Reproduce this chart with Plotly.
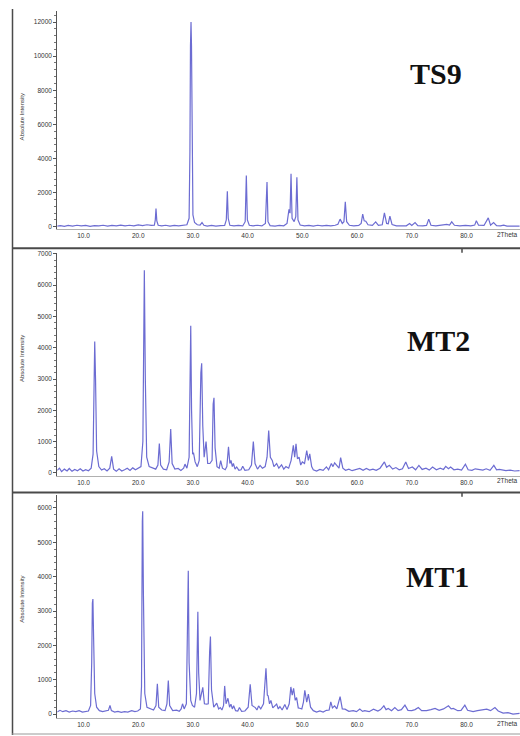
import plotly.graph_objects as go

# ---- data: (2theta, absolute intensity) ----
ts9_profile = [
    (5.2, 40), (5.8, 70), (6.5, 30), (7.2, 80), (8.0, 40), (8.8, 90), (9.6, 50), (10.4, 80),
    (11.2, 30), (12.0, 70), (12.8, 50), (13.6, 90), (14.4, 40), (15.2, 80), (16.0, 60), (16.8, 100),
    (17.6, 50), (18.4, 90), (19.2, 60), (20.0, 110), (20.8, 70), (21.6, 120), (22.4, 80), (22.95, 90),
    (23.12, 400), (23.25, 1070), (23.4, 350), (23.65, 90), (24.3, 50), (25.0, 90), (25.8, 40),
    (26.6, 80), (27.4, 50), (28.2, 90), (28.9, 120), (29.3, 500), (29.45, 4400), (29.55, 10600),
    (29.65, 12000), (29.74, 10600), (29.85, 3000), (30.0, 700), (30.3, 250), (30.8, 120), (31.3, 100),
    (31.66, 250), (32.0, 90), (32.6, 40), (33.4, 80), (34.2, 40), (35.0, 70), (35.8, 80), (36.1, 400),
    (36.29, 2080), (36.45, 500), (36.75, 90), (37.5, 50), (38.3, 80), (39.1, 50), (39.55, 300),
    (39.76, 3010), (39.95, 400), (40.3, 90), (41.0, 60), (41.8, 90), (42.6, 50), (43.25, 200),
    (43.54, 2620), (43.72, 300), (44.1, 70), (45.0, 40), (45.8, 80), (46.6, 60), (47.2, 200),
    (47.56, 1030), (47.75, 800), (47.93, 3110), (48.12, 500), (48.5, 300), (48.8, 600), (49.0, 2910),
    (49.2, 400), (49.6, 100), (50.4, 50), (51.2, 80), (52.0, 40), (52.8, 90), (53.6, 50), (54.4, 80),
    (55.2, 50), (56.0, 90), (56.5, 150), (56.9, 450), (57.3, 200), (57.6, 300), (57.85, 1460),
    (58.1, 300), (58.6, 90), (59.4, 60), (60.3, 80), (60.75, 200), (61.03, 740), (61.3, 350),
    (61.6, 330), (62.0, 120), (62.8, 80), (63.4, 290), (63.9, 80), (64.6, 120), (65.0, 815),
    (65.4, 200), (65.7, 180), (66.0, 620), (66.4, 130), (67.2, 60), (68.2, 80), (69.0, 60),
    (69.6, 195), (70.0, 80), (70.6, 250), (71.1, 70), (72.0, 50), (72.7, 80), (73.1, 450), (73.5, 90),
    (74.4, 60), (75.4, 90), (76.4, 140), (76.9, 100), (77.3, 290), (77.8, 90), (78.8, 60), (79.8, 80),
    (80.8, 50), (81.5, 100), (81.8, 350), (82.2, 90), (83.2, 80), (83.98, 525), (84.4, 100),
    (84.95, 250), (85.5, 60), (86.2, 50), (86.8, 100), (87.4, 40), (88.3, 50), (89.2, 30), (89.7, 40),
]

mt2_profile = [
    (5.2, 80), (5.6, 150), (6.0, 40), (6.5, 120), (7.0, 60), (7.4, 140), (7.9, 50), (8.4, 110),
    (8.9, 70), (9.4, 130), (9.9, 60), (10.4, 100), (10.9, 70), (11.4, 150), (11.75, 600),
    (11.95, 3900), (12.05, 4200), (12.2, 3000), (12.4, 700), (12.8, 200), (13.3, 90), (13.8, 130),
    (14.3, 60), (14.8, 150), (15.15, 530), (15.5, 120), (16.0, 50), (16.5, 130), (17.0, 60),
    (17.5, 100), (18.0, 150), (18.5, 80), (19.0, 160), (19.5, 100), (20.0, 150), (20.5, 200),
    (20.85, 1000), (21.0, 6000), (21.12, 6480), (21.3, 3000), (21.55, 500), (22.0, 200), (22.6, 150),
    (23.2, 120), (23.6, 250), (23.86, 940), (24.1, 250), (24.6, 120), (25.2, 100), (25.65, 350),
    (25.94, 1400), (26.2, 300), (26.7, 120), (27.3, 140), (27.8, 80), (28.3, 150), (28.55, 280),
    (28.9, 150), (29.3, 500), (29.5, 4380), (29.6, 4700), (29.75, 2000), (29.95, 600), (30.1, 650),
    (30.4, 350), (30.8, 200), (31.15, 400), (31.45, 3200), (31.6, 3500), (31.8, 1500), (32.05, 500),
    (32.4, 1000), (32.7, 300), (33.1, 300), (33.5, 400), (33.7, 2200), (33.85, 2400), (34.05, 800),
    (34.4, 200), (34.8, 150), (35.07, 390), (35.4, 150), (35.9, 100), (36.2, 200), (36.5, 830),
    (36.75, 300), (36.96, 400), (37.2, 200), (37.4, 300), (37.7, 120), (38.0, 190), (38.4, 80),
    (38.8, 100), (39.1, 210), (39.5, 80), (40.2, 100), (40.7, 250), (41.04, 1000), (41.35, 300),
    (41.8, 120), (42.27, 240), (42.7, 150), (43.2, 200), (43.55, 500), (43.85, 1350), (44.15, 500),
    (44.5, 400), (44.8, 200), (45.3, 300), (45.7, 150), (46.2, 260), (46.6, 120), (47.0, 200),
    (47.5, 150), (47.95, 400), (48.35, 880), (48.6, 500), (48.84, 930), (49.1, 450), (49.4, 500),
    (49.7, 250), (50.0, 350), (50.4, 300), (50.8, 710), (51.1, 400), (51.35, 610), (51.7, 200),
    (52.0, 100), (52.6, 60), (53.2, 110), (53.8, 80), (54.4, 190), (54.8, 100), (55.3, 300),
    (55.6, 200), (55.9, 320), (56.4, 190), (56.7, 150), (57.0, 485), (57.4, 150), (57.9, 85),
    (58.5, 120), (59.1, 70), (59.8, 110), (60.5, 140), (61.1, 80), (61.7, 140), (62.3, 90),
    (62.9, 120), (63.5, 80), (64.2, 150), (65.0, 350), (65.4, 180), (65.9, 240), (66.5, 120),
    (67.1, 170), (67.7, 100), (68.3, 130), (68.9, 350), (69.4, 140), (70.1, 190), (70.7, 100),
    (71.3, 240), (71.9, 110), (72.6, 150), (73.2, 90), (73.8, 190), (74.5, 100), (75.2, 150),
    (75.8, 110), (76.2, 210), (76.7, 130), (77.1, 190), (77.7, 100), (78.4, 120), (79.1, 90),
    (79.8, 275), (80.3, 100), (81.0, 80), (81.6, 130), (82.3, 105), (83.0, 90), (83.6, 130),
    (84.3, 80), (85.0, 240), (85.5, 100), (86.0, 110), (86.5, 85), (87.2, 70), (88.0, 90),
    (88.8, 60), (89.7, 70),
]

mt1_profile = [
    (5.2, 60), (5.7, 110), (6.2, 70), (6.8, 100), (7.4, 60), (8.0, 90), (8.6, 70), (9.2, 100),
    (9.8, 60), (10.4, 80), (10.9, 90), (11.3, 250), (11.5, 1500), (11.62, 3230), (11.72, 3350),
    (11.85, 2200), (12.05, 600), (12.4, 200), (12.9, 100), (13.5, 70), (14.1, 90), (14.55, 110),
    (14.84, 250), (15.1, 100), (15.7, 60), (16.3, 80), (16.9, 50), (17.5, 70), (18.1, 60), (18.8, 100),
    (19.4, 70), (19.9, 90), (20.4, 150), (20.6, 800), (20.75, 5600), (20.82, 5900), (20.95, 3500),
    (21.2, 600), (21.6, 200), (22.2, 150), (22.8, 120), (23.25, 250), (23.5, 880), (23.75, 200),
    (24.3, 120), (24.9, 100), (25.25, 300), (25.5, 980), (25.75, 250), (26.3, 100), (27.03, 115),
    (27.5, 80), (27.85, 150), (28.1, 300), (28.4, 150), (28.8, 300), (29.0, 3000), (29.15, 4170),
    (29.3, 1500), (29.45, 500), (29.6, 400), (29.9, 250), (30.3, 200), (30.65, 600), (30.8, 2600),
    (30.9, 2980), (31.05, 1200), (31.3, 400), (31.8, 780), (32.1, 300), (32.5, 290), (32.8, 300),
    (33.05, 1800), (33.2, 2260), (33.4, 700), (33.8, 200), (34.35, 320), (34.7, 150), (35.0, 190),
    (35.3, 120), (35.6, 250), (35.8, 820), (36.05, 300), (36.4, 460), (36.7, 200), (36.95, 290),
    (37.2, 150), (37.44, 240), (37.8, 100), (38.2, 90), (38.5, 190), (38.9, 80), (39.5, 90),
    (40.1, 200), (40.47, 870), (40.8, 250), (41.4, 190), (41.7, 120), (42.0, 240), (42.4, 150),
    (42.9, 300), (43.35, 1330), (43.6, 550), (43.75, 530), (44.0, 300), (44.25, 400), (44.6, 180),
    (45.3, 290), (45.6, 150), (45.9, 220), (46.3, 120), (46.8, 280), (47.2, 130), (47.6, 300),
    (47.9, 790), (48.15, 550), (48.4, 750), (48.7, 400), (48.95, 480), (49.25, 180), (49.5, 170),
    (49.9, 150), (50.2, 350), (50.45, 690), (50.8, 350), (51.1, 580), (51.5, 200), (52.0, 100),
    (52.6, 60), (53.2, 90), (53.8, 60), (54.4, 110), (54.9, 120), (55.2, 357), (55.5, 180),
    (55.9, 240), (56.3, 150), (56.9, 510), (57.3, 150), (57.8, 145), (58.5, 80), (59.3, 100),
    (59.9, 70), (60.5, 145), (61.0, 80), (61.4, 100), (62.2, 70), (63.0, 145), (63.8, 90),
    (64.3, 130), (64.9, 240), (65.3, 130), (65.7, 165), (66.3, 100), (66.9, 190), (67.5, 100),
    (68.1, 130), (68.75, 260), (69.3, 110), (70.0, 100), (70.6, 130), (71.2, 190), (71.8, 100),
    (72.7, 100), (73.5, 130), (74.25, 165), (75.0, 110), (75.8, 150), (76.7, 240), (77.2, 150),
    (77.6, 165), (78.4, 100), (79.0, 110), (79.7, 260), (80.2, 110), (81.2, 70), (82.0, 100),
    (82.8, 120), (83.7, 145), (84.4, 100), (85.2, 190), (85.8, 90), (86.7, 30), (87.6, 40),
    (88.5, 0), (89.7, 20),
]

sample_names = ["TS9", "MT2", "MT1"]
x_tick_values = [10, 20, 30, 40, 50, 60, 70, 80]
x_tick_labels = ["10.0", "20.0", "30.0", "40.0", "50.0", "60.0", "70.0", "80.0"]
y_ticks_ts9 = [0, 2000, 4000, 6000, 8000, 10000, 12000]
y_ticks_mt2 = [0, 1000, 2000, 3000, 4000, 5000, 6000, 7000]
y_ticks_mt1 = [0, 1000, 2000, 3000, 4000, 5000, 6000]

W, H = 520, 736
LINE = "#6c6cd2"

def py(y):  # pixel row -> paper fraction
    return 1 - y / H

def px(x):
    return x / W

fig = go.Figure()
profiles = [ts9_profile, mt2_profile, mt1_profile]
for i, prof in enumerate(profiles):
    sfx = "" if i == 0 else str(i + 1)
    fig.add_trace(go.Scatter(
        x=[p[0] for p in prof], y=[p[1] for p in prof], mode="lines",
        line=dict(color=LINE, width=1.2), xaxis="x" + sfx, yaxis="y" + sfx,
        showlegend=False, hoverinfo="skip"))

x_dom = [px(57.24), 1.0]
x_rng = [5.2, 89.78]
y_specs = [
    dict(domain=[py(227.6), py(8)], range=[-150, 12650], tickvals=y_ticks_ts9, dtick=2000),
    dict(domain=[py(475.6), py(251.3)], range=[-100, 7030], tickvals=y_ticks_mt2, dtick=1000),
    dict(domain=[py(719.3), py(494.9)], range=[-125, 6370], tickvals=y_ticks_mt1, dtick=1000),
]

layout = dict(width=W, height=H, margin=dict(l=0, r=0, t=0, b=0),
              paper_bgcolor="white", plot_bgcolor="white", showlegend=False)

tickfont = dict(family="Liberation Sans, Arial, sans-serif", size=6.5, color="#333333")
for i, spec in enumerate(y_specs):
    sfx = "" if i == 0 else str(i + 1)
    layout["xaxis" + sfx] = dict(
        domain=x_dom, range=x_rng, anchor="y" + sfx, tickmode="array",
        tickvals=x_tick_values, ticktext=x_tick_labels, showgrid=False, zeroline=False,
        showline=True, linecolor="#b0b0b0", linewidth=1, ticks="", tickfont=tickfont,
        fixedrange=True)
    layout["yaxis" + sfx] = dict(
        domain=spec["domain"], range=spec["range"], anchor="x" + sfx, tickmode="array",
        tickvals=spec["tickvals"], ticktext=[str(v) for v in spec["tickvals"]],
        showgrid=False, zeroline=False, showline=True,
        linecolor="#555555", linewidth=1, ticks="outside", ticklen=3, tickcolor="#555555",
        minor=dict(ticks="outside", ticklen=2, dtick=spec["dtick"] / 5, tickcolor="#777777"),
        tickfont=tickfont, fixedrange=True)

fig.update_layout(**layout)

# sample names
name_pos = [(436, 71), (438, 339), (437, 577)]
for name, (cx, cy) in zip(sample_names, name_pos):
    fig.add_annotation(x=px(cx), y=py(cy), xref="paper", yref="paper", text="<b>%s</b>" % name,
                       showarrow=False, xanchor="center", yanchor="middle",
                       font=dict(family="Liberation Serif, Times New Roman, serif", size=30,
                                 color="#111111"))

# y-axis titles and the "2Theta" end labels
ytitle_pos = [115, 358, 600]
xend_pos = [232.3, 480, 724]
for yc, yx in zip(ytitle_pos, xend_pos):
    fig.add_annotation(x=px(22), y=py(yc), xref="paper", yref="paper", text="Absolute Intensity",
                       textangle=-90, showarrow=False, xanchor="center", yanchor="middle",
                       font=dict(family="Liberation Sans, Arial, sans-serif", size=6, color="#333333"))
    fig.add_annotation(x=px(519.5), y=py(yx), xref="paper", yref="paper", text="2Theta",
                       showarrow=False, xanchor="right", yanchor="middle", font=tickfont)

# frame lines of the three stacked panels
frame = "#4a4a4a"
shapes = [
    dict(type="line", xref="paper", yref="paper", x0=px(12.5), x1=px(12.5), y0=py(6), y1=py(736),
         line=dict(color=frame, width=1.5)),
    dict(type="line", xref="paper", yref="paper", x0=px(12), x1=1, y0=py(246.7), y1=py(246.7),
         line=dict(color=frame, width=2)),
    dict(type="line", xref="paper", yref="paper", x0=px(12), x1=1, y0=py(492.3), y1=py(492.3),
         line=dict(color=frame, width=2)),
    dict(type="line", xref="paper", yref="paper", x0=px(12), x1=1, y0=py(735), y1=py(735),
         line=dict(color="#999999", width=1)),
    dict(type="line", xref="paper", yref="paper", x0=px(462), x1=px(462), y0=py(247), y1=py(251),
         line=dict(color=frame, width=1.5)),
    dict(type="line", xref="paper", yref="paper", x0=px(462), x1=px(462), y0=py(492.5), y1=py(496.5),
         line=dict(color=frame, width=1.5)),
]
fig.update_layout(shapes=shapes)

fig.write_html("out.html", config={"displayModeBar": False},
               post_script="document.body.style.margin='0';document.body.style.overflow='hidden';")
